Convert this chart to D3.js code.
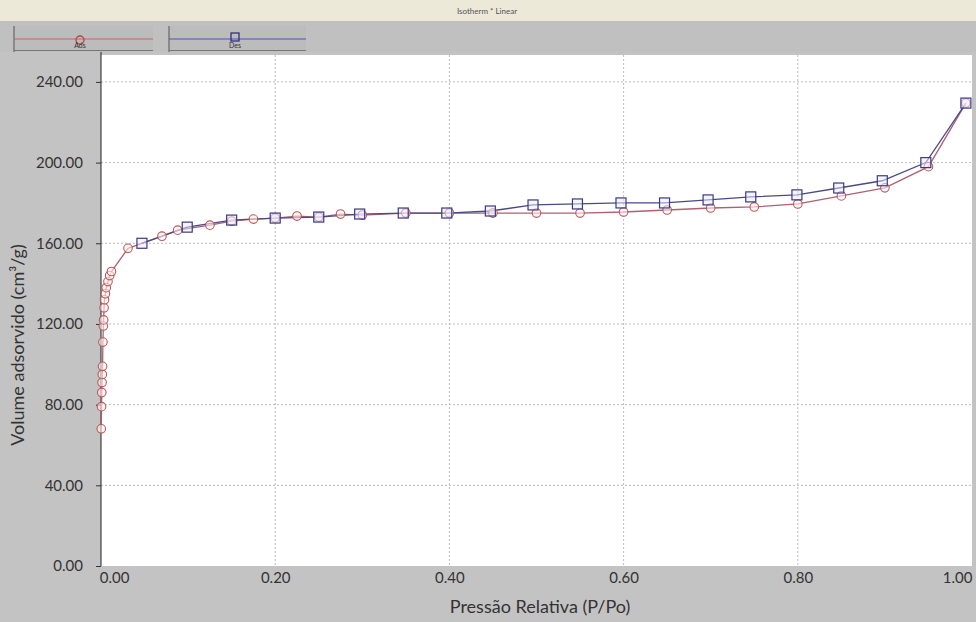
<!DOCTYPE html>
<html>
<head>
<meta charset="utf-8">
<script src="https://cdn.jsdelivr.net/npm/d3@7"></script>
<style>
  html, body { margin: 0; padding: 0; background: #c3c3c3; }
  svg { display: block; }
</style>
</head>
<body>
<svg id="chart" width="976" height="622"></svg>
<script>
// Adsorption branch (relative pressure, adsorbed volume cm³/g)
const adsP = [0.0003,0.0006,0.0009,0.0012,0.0015,0.0018,0.0022,0.0027,0.003,0.0035,0.004,0.005,0.006,0.008,0.010,0.012,
              0.031,0.070,0.088,0.125,0.150,0.175,0.200,0.225,0.250,0.275,0.300,0.350,0.400,0.450,0.500,0.550,
              0.600,0.650,0.700,0.750,0.800,0.850,0.900,0.950,0.993];
const adsV = [68,79,86,91,95,99,111,119,122,128,132,135,138,141,144,146,
              157.5,163.5,166.5,169,171,172,172.5,173.5,173,174.5,174,175,175,175,175,175,
              175.5,176.5,177.5,178,179.5,183.5,187.5,198,229.5];
// Desorption branch
const desP = [0.993,0.947,0.897,0.847,0.799,0.746,0.697,0.647,0.597,0.547,0.496,0.447,0.397,0.347,0.297,0.250,0.200,0.150,0.099,0.047];
const desV = [229.5,200,191,187.4,184,183,181.5,180,180,179.5,179,176,175,175,174.5,173,172.5,171.5,168,160];

const xTicks = [0, 0.2, 0.4, 0.6, 0.8, 1.0];
const yTicks = [0, 40, 80, 120, 160, 200, 240];
const seriesNames = ["Ads", "Des"];

const svg = d3.select("#chart");
const W = 976, H = 622;
const m = { left: 101, right: 972, top: 55, bottom: 566 };

const x = d3.scaleLinear().domain([0, 1]).range([m.left, m.right]);
const y = d3.scaleLinear().domain([0, 240]).range([m.bottom, m.bottom - 240 * 2.017]);

// window frame
svg.append("rect").attr("width", W).attr("height", H).attr("fill", "#c3c3c3");
svg.append("rect").attr("width", W).attr("height", 21).attr("fill", "#ece9d8");
svg.append("text").attr("x", 487).attr("y", 14).attr("text-anchor", "middle")
  .attr("font-family", "Lato, sans-serif").attr("font-size", 8).attr("fill", "#555")
  .text("Isotherm * Linear");
svg.append("rect").attr("y", 21).attr("width", W).attr("height", 31).attr("fill", "#c0c0c0");

// legend strips
const legend = [
  { x0: 14, x1: 153, mx: 80, color: "#d06060", mark: "#b04848", shape: "circle" },
  { x0: 169, x1: 306, mx: 235, color: "#5050c0", mark: "#303080", shape: "square" }
];
legend.forEach((d, i) => {
  const g = svg.append("g");
  g.append("rect").attr("x", d.x0).attr("y", 26).attr("width", d.x1 - d.x0).attr("height", 25).attr("fill", "#bcbcbc");
  g.append("line").attr("x1", d.x0).attr("x2", d.x0).attr("y1", 26).attr("y2", 52).attr("stroke", "#555");
  g.append("line").attr("x1", d.x0).attr("x2", d.x1).attr("y1", 50.5).attr("y2", 50.5).attr("stroke", "#777");
  g.append("line").attr("x1", d.x0).attr("x2", d.x1).attr("y1", 39).attr("y2", 39).attr("stroke", d.color).attr("stroke-width", 1.2);
  if (d.shape === "circle") {
    g.append("circle").attr("cx", d.mx).attr("cy", 40).attr("r", 4).attr("fill", "none").attr("stroke", d.mark).attr("stroke-width", 1.3);
  } else {
    g.append("rect").attr("x", d.mx - 4).attr("y", 33).attr("width", 8).attr("height", 8).attr("fill", "none").attr("stroke", d.mark).attr("stroke-width", 1.3);
  }
  g.append("text").attr("x", d.mx).attr("y", 48).attr("text-anchor", "middle")
    .attr("font-family", "Lato, sans-serif").attr("font-size", 7).attr("fill", "#333").text(seriesNames[i]);
});

// plot area
svg.append("rect").attr("x", m.left).attr("y", m.top).attr("width", m.right - m.left).attr("height", m.bottom - m.top).attr("fill", "#ffffff");

// grid
const grid = svg.append("g").attr("stroke", "#bcbcbc").attr("stroke-dasharray", "2,2").attr("stroke-width", 1);
yTicks.filter(t => t > 0).forEach(t => {
  grid.append("line").attr("x1", m.left).attr("x2", m.right).attr("y1", y(t)).attr("y2", y(t));
});
xTicks.filter(t => t > 0 && t < 1).forEach(t => {
  grid.append("line").attr("y1", m.top).attr("y2", m.bottom).attr("x1", x(t)).attr("x2", x(t));
});

// y axis
const yAxis = d3.axisLeft(y).tickValues(yTicks).tickFormat(d3.format(".2f")).tickSize(5).tickPadding(13);
const ya = svg.append("g").attr("transform", `translate(${m.left},0)`).call(yAxis);
ya.select(".domain").attr("d", `M0,${m.top - 3}V${m.bottom}`).attr("stroke", "#222");
ya.selectAll(".tick line").attr("stroke", "#333");
ya.selectAll("text").attr("font-family", "Lato, sans-serif").attr("font-size", 15).attr("fill", "#333");

// x axis labels (no visible baseline)
const xAxis = d3.axisBottom(x).tickValues(xTicks).tickFormat(d3.format(".2f")).tickSize(0).tickPadding(6);
const xa = svg.append("g").attr("transform", `translate(0,${m.bottom})`).call(xAxis);
xa.select(".domain").remove();
xa.selectAll("text").attr("font-family", "Lato, sans-serif").attr("font-size", 15).attr("fill", "#333")
  .attr("dx", d => d === 0 ? 13 : d === 1 ? -15 : 0);

// axis titles
svg.append("text").attr("x", 540).attr("y", 613).attr("text-anchor", "middle")
  .attr("font-family", "Lato, sans-serif").attr("font-size", 18).attr("fill", "#333")
  .text("Pressão Relativa (P/Po)");
svg.append("text").attr("transform", "translate(24,345) rotate(-90)").attr("text-anchor", "middle")
  .attr("font-family", "Lato, sans-serif").attr("font-size", 18).attr("fill", "#333")
  .text("Volume adsorvido (cm³/g)");

// series
const ads = adsP.map((p, i) => [p, adsV[i]]);
const des = desP.map((p, i) => [p, desV[i]]);
const line = d3.line().x(d => x(d[0])).y(d => y(d[1]));

const plot = svg.append("g");
plot.append("path").datum(ads).attr("d", line).attr("fill", "none").attr("stroke", "#b06070").attr("stroke-width", 1.3);
plot.append("path").datum(des).attr("d", line).attr("fill", "none").attr("stroke", "#4a4a88").attr("stroke-width", 1.3);

plot.selectAll("circle.ads").data(ads).join("circle").attr("class", "ads")
  .attr("cx", d => x(d[0])).attr("cy", d => y(d[1])).attr("r", 4.3)
  .attr("fill", "rgba(255,240,240,0.6)").attr("stroke", "#b85a5a").attr("stroke-width", 1.1);
plot.selectAll("rect.des").data(des).join("rect").attr("class", "des")
  .attr("x", d => x(d[0]) - 5).attr("y", d => y(d[1]) - 5).attr("width", 10).attr("height", 10)
  .attr("fill", "rgba(235,235,255,0.5)").attr("stroke", "#3a3a80").attr("stroke-width", 1.2);
</script>
</body>
</html>
